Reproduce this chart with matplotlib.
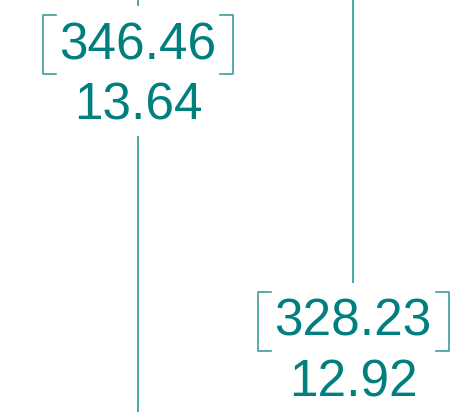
import matplotlib.pyplot as plt

# values shown in the two labels
upper_values = ["346.46", "328.23"]
lower_values = ["13.64", "12.92"]

# layout (pixel space of the cropped view)
x_pos = [138, 353]
label_top = [15, 292]       # top of bracket box
line_gaps = [(6, 136), (283, 420)]  # vertical line is hidden behind the label
box_half_width = [95, 95.5]
box_height = 59

TEXT_COLOUR = "#007f7f"
LINE_COLOUR = "#4aa8a8"
BRACKET_COLOUR = "#3f9c9c"

fig = plt.figure(figsize=(4.58, 4.12), dpi=100)
ax = fig.add_axes([0, 0, 1, 1])
ax.set_xlim(0, 458)
ax.set_ylim(412, 0)
ax.axis("off")

for i in range(len(x_pos)):
    x = x_pos[i]
    g0, g1 = line_gaps[i]
    ax.plot([x, x], [0, g0], color=LINE_COLOUR, lw=1.4, solid_capstyle="butt")
    ax.plot([x, x], [g1, 412], color=LINE_COLOUR, lw=1.4, solid_capstyle="butt")

    top = label_top[i]
    bot = top + box_height
    left = x - box_half_width[i]
    right = x + box_half_width[i]
    serif = 13
    ax.plot([left + serif, left, left, left + serif], [top, top, bot, bot],
            color=BRACKET_COLOUR, lw=1.2)
    ax.plot([right - serif, right, right, right - serif], [top, top, bot, bot],
            color=BRACKET_COLOUR, lw=1.2)

    ax.text(x, (top + bot) / 2 + 1, upper_values[i], ha="center", va="center",
            fontsize=37, color=TEXT_COLOUR, family="Liberation Sans")
    ax.text(x, bot + 32, lower_values[i], ha="center", va="center",
            fontsize=37, color=TEXT_COLOUR, family="Liberation Sans")

fig.savefig("out.png", dpi=100)
